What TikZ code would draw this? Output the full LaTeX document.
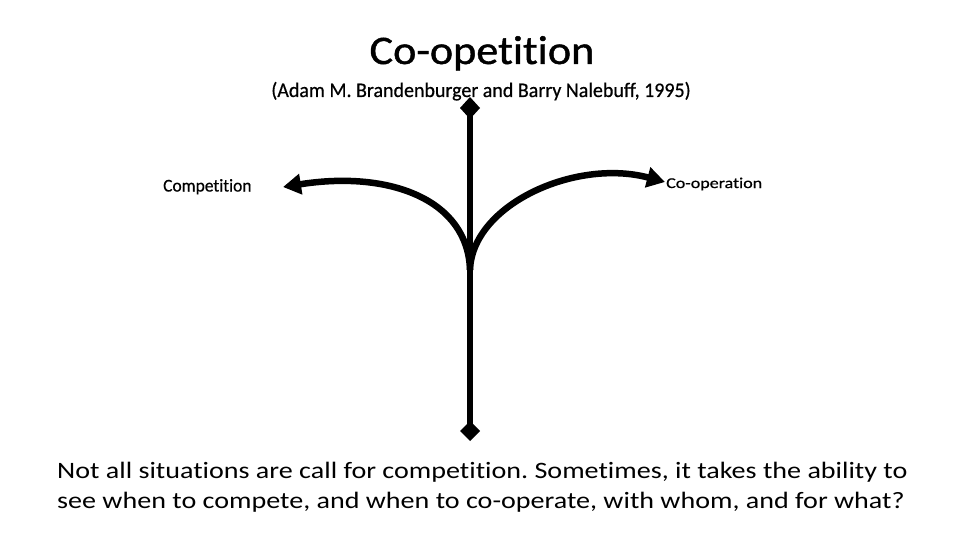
\documentclass[tikz,border=0pt]{standalone}
\usepackage{fontspec}
\setmainfont{Carlito}[Ligatures=NoCommon]
\newfontfamily\heavyfont{Carlito}[Ligatures=NoCommon,FakeBold=1]
\newfontfamily\medfont{Carlito}[Ligatures=NoCommon,FakeBold=0.6]
\usetikzlibrary{arrows.meta}
\frenchspacing
\begin{document}
\begin{tikzpicture}[x=1pt,y=-1pt,
  stem/.style={line width=6.5pt,black},
  branch/.style={line width=6.5pt,black,-{Triangle[length=18pt,width=20pt]}},
  lbl/.style={inner sep=0pt,anchor=base west},
  body/.style={inner sep=0pt,anchor=base west}]
\useasboundingbox (0,0) rectangle (960,540);
\node[inner sep=0pt,anchor=base] (title) at (482,64) {\scalebox{1.09}[1]{\heavyfont\fontsize{40.5}{46}\selectfont Co-opetition}};
\node[inner sep=0pt,anchor=base] (sub) at (481,97) {\scalebox{0.965}[1]{\medfont\fontsize{20.7}{24}\selectfont (Adam M. Brandenburger and Barry Nalebuff, 1995)}};
\coordinate (top) at (470,97);
\coordinate (bot) at (470,441);
\coordinate (j) at (470,270);
\coordinate (lt) at (283,187);
\coordinate (rt) at (665,182);
\draw[stem,{Diamond[length=22pt,width=20pt]}-{Diamond[length=20pt,width=20pt]}] (top) -- (bot);
\draw[branch] (j) .. controls (468,200) and (390,170) .. (lt);
\draw[branch] (j) .. controls (472,205) and (575,158) .. (rt);
\node[lbl] (comp) at (163,191.5) {\scalebox{0.97}[1]{\medfont\fontsize{18}{20}\selectfont Competition}};
\node[lbl] (coop) at (666,188) {\scalebox{1.2}[1]{\medfont\fontsize{15}{18}\selectfont Co-operation}};
\node[body] (line1) at (57,478.5) {\scalebox{1.195}[1]{\fontsize{23.5}{28}\selectfont Not all situations are call for competition. Sometimes, it takes the ability to}};
\node[body] (line2) at (57,508) {\scalebox{1.195}[1]{\fontsize{23.5}{28}\selectfont see when to compete, and when to co-operate, with whom, and for what?}};
\end{tikzpicture}
\end{document}
